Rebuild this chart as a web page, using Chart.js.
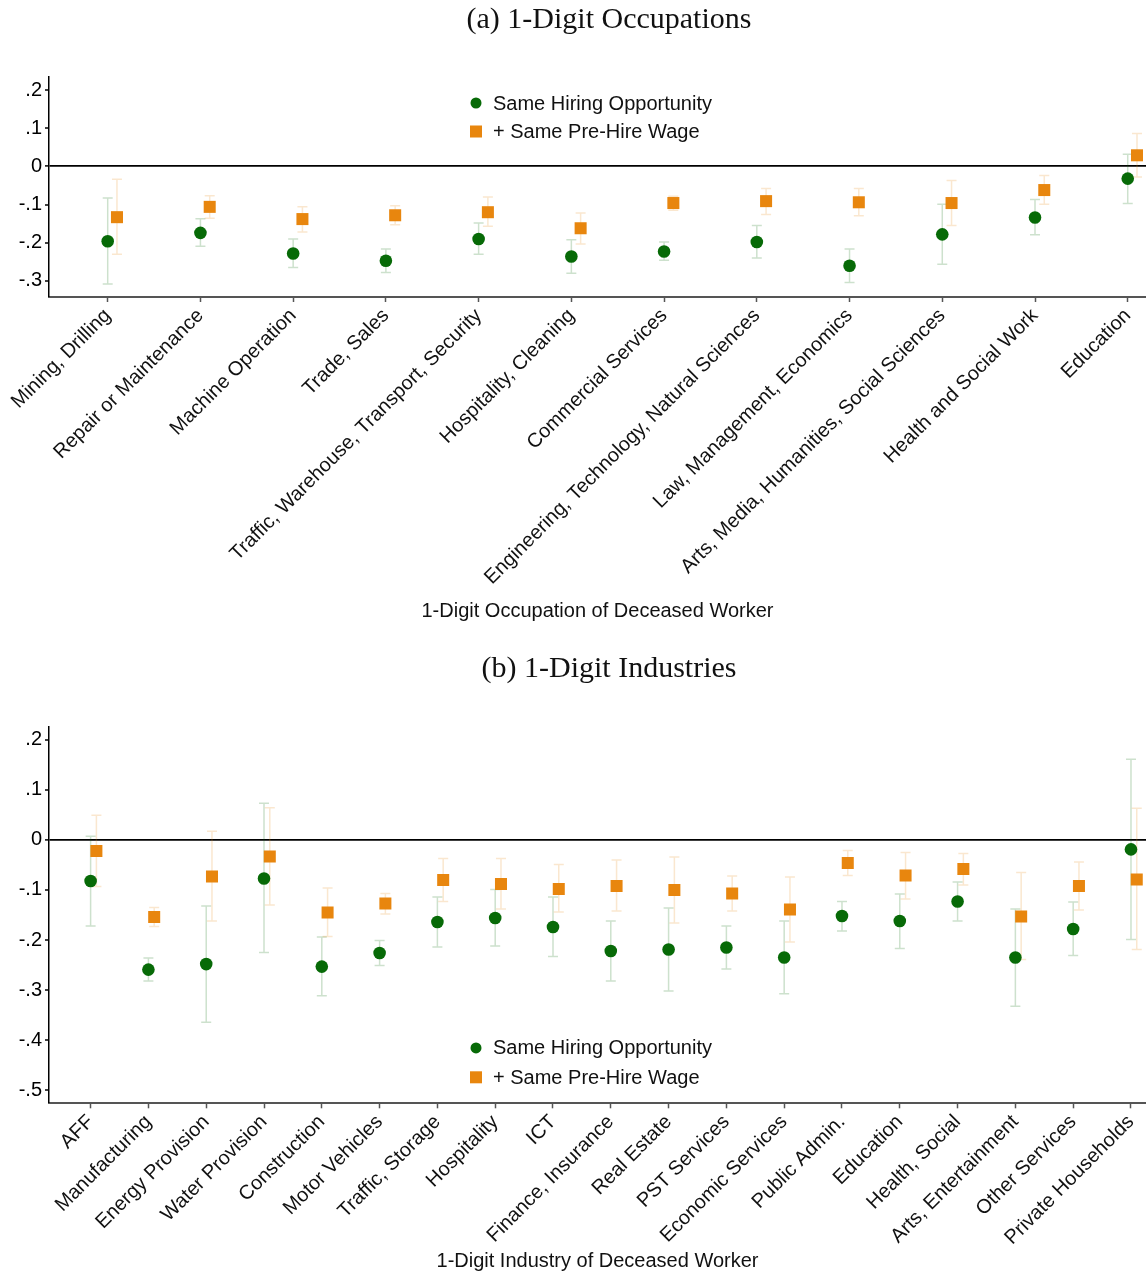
<!DOCTYPE html>
<html>
<head>
<meta charset="utf-8">
<title>Hiring effects by occupation and industry</title>
<script src="https://cdn.jsdelivr.net/npm/chart.js@4.4.1/dist/chart.umd.min.js"></script>
<style>
  body {
    margin: 0;
    background: #fff;
    width: 1146px;
    height: 1274px;
    position: relative;
    overflow: hidden;
  }
  .panel-title {
    position: absolute;
    left: 609px;
    transform: translateX(-50%);
    font-family: "Liberation Serif", "DejaVu Serif", serif;
    font-size: 30px;
    line-height: 1;
    color: #111;
    white-space: nowrap;
    z-index: 2;
  }
  .chart-box {
    position: absolute;
    left: 0;
    width: 1146px;
  }
</style>
</head>
<body>
<div class="panel-title" style="top: 3px">(a) 1-Digit Occupations</div>
<div class="chart-box" style="top: 0; height: 640px"><canvas id="occ-chart"></canvas></div>
<div class="panel-title" style="top: 652px">(b) 1-Digit Industries</div>
<div class="chart-box" style="top: 640px; height: 634px"><canvas id="ind-chart"></canvas></div>

<script>
// ============================================
// Data
// ============================================
const occLabels = [
  "Mining, Drilling",
  "Repair or Maintenance",
  "Machine Operation",
  "Trade, Sales",
  "Traffic, Warehouse, Transport, Security",
  "Hospitality, Cleaning",
  "Commercial Services",
  "Engineering, Technology, Natural Sciences",
  "Law, Management, Economics",
  "Arts, Media, Humanities, Social Sciences",
  "Health and Social Work",
  "Education",
];
const occHire   = [-0.196, -0.174, -0.228, -0.247, -0.190, -0.236, -0.223, -0.198, -0.260, -0.178, -0.134, -0.032];
const occHireLo = [-0.308, -0.209, -0.265, -0.278, -0.230, -0.280, -0.246, -0.240, -0.304, -0.256, -0.179, -0.097];
const occHireHi = [-0.083, -0.137, -0.190, -0.216, -0.148, -0.192, -0.198, -0.155, -0.216, -0.099, -0.087, 0.032];
const occWage   = [-0.133, -0.106, -0.138, -0.128, -0.120, -0.162, -0.096, -0.091, -0.094, -0.096, -0.062, 0.029];
const occWageLo = [-0.230, -0.136, -0.172, -0.153, -0.157, -0.203, -0.115, -0.126, -0.129, -0.155, -0.099, -0.028];
const occWageHi = [-0.034, -0.077, -0.106, -0.103, -0.080, -0.122, -0.078, -0.058, -0.058, -0.037, -0.024, 0.086];

const indLabels = [
  "AFF",
  "Manufacturing",
  "Energy Provision",
  "Water Provision",
  "Construction",
  "Motor Vehicles",
  "Traffic, Storage",
  "Hospitality",
  "ICT",
  "Finance, Insurance",
  "Real Estate",
  "PST Services",
  "Economic Services",
  "Public Admin.",
  "Education",
  "Health, Social",
  "Arts, Entertainment",
  "Other Services",
  "Private Households",
];
const indHire   = [-0.082, -0.259, -0.248, -0.077, -0.253, -0.226, -0.164, -0.156, -0.174, -0.222, -0.219, -0.215, -0.235, -0.152, -0.162, -0.123, -0.235, -0.178, -0.019];
const indHireLo = [-0.172, -0.282, -0.364, -0.225, -0.311, -0.251, -0.214, -0.212, -0.233, -0.282, -0.302, -0.258, -0.307, -0.182, -0.217, -0.162, -0.332, -0.231, -0.199];
const indHireHi = [0.007, -0.236, -0.132, 0.073, -0.194, -0.201, -0.114, -0.099, -0.114, -0.162, -0.136, -0.172, -0.162, -0.123, -0.108, -0.084, -0.138, -0.124, 0.161];
const indWage   = [-0.022, -0.154, -0.073, -0.033, -0.145, -0.127, -0.080, -0.088, -0.098, -0.092, -0.100, -0.107, -0.139, -0.046, -0.071, -0.058, -0.153, -0.092, -0.079];
const indWageLo = [-0.093, -0.173, -0.162, -0.130, -0.193, -0.148, -0.123, -0.138, -0.144, -0.142, -0.166, -0.142, -0.204, -0.071, -0.118, -0.090, -0.239, -0.140, -0.219];
const indWageHi = [0.049, -0.135, 0.017, 0.064, -0.096, -0.107, -0.037, -0.037, -0.049, -0.040, -0.034, -0.072, -0.074, -0.021, -0.025, -0.027, -0.065, -0.044, 0.063];

const seriesNames = ["Same Hiring Opportunity", "+ Same Pre-Hire Wage"];

// ============================================
// Styling
// ============================================
const GREEN = "#076a07";
const ORANGE = "#e8860e";
const GREEN_BAR = "rgba(7, 106, 7, 0.2)";
const ORANGE_BAR = "rgba(232, 134, 14, 0.2)";
const WAGE_SHIFT = 0.1; // orange marker sits a little right of the category

Chart.defaults.font.family = "'Liberation Sans', Arial, sans-serif";
Chart.defaults.font.size = 20;
Chart.defaults.color = "#000";

// ============================================
// Plugins
// ============================================
const errorBarPlugin = {
  id: "errorBars",
  beforeDatasetsDraw(chart, args, opts) {
    const { ctx } = chart;
    const yScale = chart.scales.y;
    chart.data.datasets.forEach((ds, di) => {
      const meta = chart.getDatasetMeta(di);
      ctx.save();
      ctx.strokeStyle = ds.barColor;
      ctx.lineWidth = opts.lineWidth;
      meta.data.forEach((pt, i) => {
        const yLo = yScale.getPixelForValue(ds.lo[i]);
        const yHi = yScale.getPixelForValue(ds.hi[i]);
        ctx.beginPath();
        ctx.moveTo(pt.x, yLo);
        ctx.lineTo(pt.x, yHi);
        ctx.moveTo(pt.x - opts.cap, yLo);
        ctx.lineTo(pt.x + opts.cap, yLo);
        ctx.moveTo(pt.x - opts.cap, yHi);
        ctx.lineTo(pt.x + opts.cap, yHi);
        ctx.stroke();
      });
      ctx.restore();
    });
  },
};

const insideLegendPlugin = {
  id: "insideLegend",
  afterDraw(chart, args, opts) {
    const { ctx, chartArea } = chart;
    const n = chart.data.datasets.length;
    const x = chartArea.left + opts.left;
    let y = opts.fromBottom
      ? chartArea.bottom - opts.offset - (n - 1) * opts.rowGap
      : chartArea.top + opts.offset;
    ctx.save();
    ctx.font = "20px 'Liberation Sans', Arial, sans-serif";
    ctx.textBaseline = "middle";
    chart.data.datasets.forEach((ds) => {
      ctx.fillStyle = ds.backgroundColor;
      if (ds.pointStyle === "rect") {
        ctx.fillRect(x - 6, y - 6, 12, 12);
      } else {
        ctx.beginPath();
        ctx.arc(x, y, 5.5, 0, Math.PI * 2);
        ctx.fill();
      }
      ctx.fillStyle = "#111";
      ctx.fillText(ds.label, x + 17, y + 1);
      y += opts.rowGap;
    });
    ctx.restore();
  },
};

// ============================================
// Chart builder
// ============================================
function fmtTick(v) {
  const r = Math.round(v * 10) / 10;
  if (r === 0) return "0";
  return (r < 0 ? "-" : "") + Math.abs(r).toFixed(1).replace(/^0/, "");
}

function buildChart(canvasId, cfg) {
  const ctx = document.getElementById(canvasId).getContext("2d");
  const labels = cfg.labels;

  return new Chart(ctx, {
    type: "scatter",
    data: {
      datasets: [
        {
          label: seriesNames[0],
          data: cfg.hire.map((v, i) => ({ x: i, y: v })),
          lo: cfg.hireLo,
          hi: cfg.hireHi,
          barColor: GREEN_BAR,
          backgroundColor: GREEN,
          borderColor: GREEN,
          pointStyle: "circle",
          pointRadius: 6.3,
          borderWidth: 0,
        },
        {
          label: seriesNames[1],
          data: cfg.wage.map((v, i) => ({ x: i + WAGE_SHIFT, y: v })),
          lo: cfg.wageLo,
          hi: cfg.wageHi,
          barColor: ORANGE_BAR,
          backgroundColor: ORANGE,
          borderColor: ORANGE,
          pointStyle: "rect",
          pointRadius: 8.5,
          borderWidth: 0,
        },
      ],
    },
    options: {
      responsive: true,
      maintainAspectRatio: false,
      animation: false,
      events: [],
      layout: {
        autoPadding: false,
        padding: { top: cfg.padTop, left: 0, right: 0, bottom: 0 },
      },
      plugins: {
        legend: { display: false },
        tooltip: { enabled: false },
        errorBars: { lineWidth: 1.5, cap: 5 },
        insideLegend: cfg.legend,
      },
      scales: {
        x: {
          type: "linear",
          min: cfg.xMin,
          max: cfg.xMax,
          afterFit: (scale) => {
            // plot runs to the right edge, rotated labels may overhang
            scale.height = cfg.xAxisHeight;
            scale.paddingLeft = 0;
            scale.paddingRight = 0;
          },
          border: { color: "#555", width: 2 },
          grid: {
            drawOnChartArea: false,
            drawTicks: true,
            tickLength: 5,
            tickColor: "#555",
            tickWidth: 1.5,
          },
          ticks: {
            stepSize: 1,
            includeBounds: false,
            autoSkip: false,
            minRotation: 45,
            maxRotation: 45,
            padding: 2,
            color: "#111",
            callback: (value) => (Number.isInteger(value) && labels[value]) || "",
          },
          title: {
            display: true,
            text: cfg.axisTitle,
            color: "#111",
            padding: { top: 0, bottom: cfg.titlePadBottom },
          },
        },
        y: {
          min: cfg.yMin,
          max: cfg.yMax,
          afterFit: (scale) => {
            scale.width = 49;
          },
          border: { color: "#000", width: 1.5 },
          grid: {
            color: (c) => (c.tick && c.tick.value === 0 ? "#000" : "rgba(0,0,0,0)"),
            lineWidth: (c) => (c.tick && c.tick.value === 0 ? 1.8 : 0),
            tickColor: "#000",
            tickWidth: 1.5,
            tickLength: 4,
          },
          ticks: {
            stepSize: 0.1,
            includeBounds: false,
            padding: 3,
            color: "#000",
            callback: (value) => fmtTick(value),
          },
        },
      },
    },
    plugins: [errorBarPlugin, insideLegendPlugin],
  });
}

// ============================================
// Initialization
// ============================================
buildChart("occ-chart", {
  labels: occLabels,
  hire: occHire,
  hireLo: occHireLo,
  hireHi: occHireHi,
  wage: occWage,
  wageLo: occWageLo,
  wageHi: occWageHi,
  xMin: -0.633,
  xMax: 11.197,
  yMin: -0.342,
  yMax: 0.234,
  padTop: 77,
  xAxisHeight: 343,
  titlePadBottom: 17,
  axisTitle: "1-Digit Occupation of Deceased Worker",
  legend: { left: 427, offset: 26, rowGap: 28.5, fromBottom: false },
});

buildChart("ind-chart", {
  labels: indLabels,
  hire: indHire,
  hireLo: indHireLo,
  hireHi: indHireHi,
  wage: indWage,
  wageLo: indWageLo,
  wageHi: indWageHi,
  xMin: -0.72,
  xMax: 18.26,
  yMin: -0.526,
  yMax: 0.226,
  padTop: 86.7,
  xAxisHeight: 170.7,
  titlePadBottom: 1,
  axisTitle: "1-Digit Industry of Deceased Worker",
  legend: { left: 427, offset: 26, rowGap: 29.4, fromBottom: true },
});
</script>
</body>
</html>
